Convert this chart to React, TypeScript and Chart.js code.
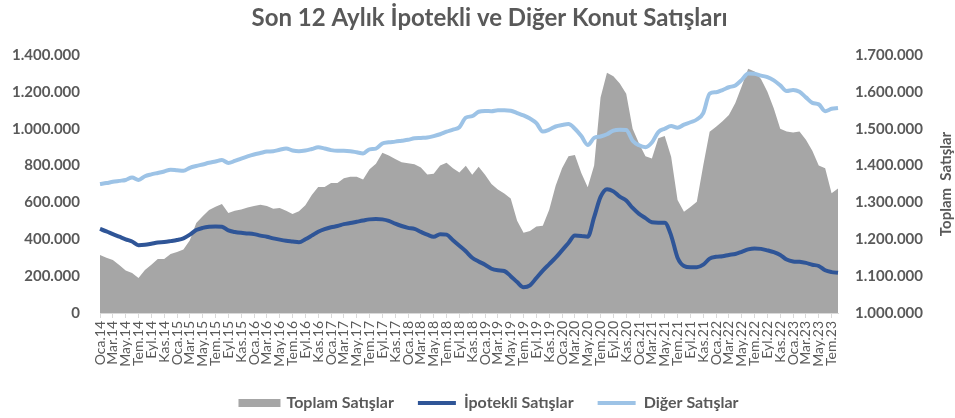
import React, { useEffect, useRef } from 'react';
import { Chart, registerables } from 'chart.js';

Chart.register(...registerables);

const TITLE = 'Son 12 Aylık İpotekli ve Diğer Konut Satışları';
const RIGHT_AXIS_TITLE = 'Toplam  Satışlar';
const SERIES_NAMES = ['Toplam Satışlar', 'İpotekli Satışlar', 'Diğer Satışlar'];

const MONTHS = ['Oca', 'Şub', 'Mar', 'Nis', 'May', 'Haz', 'Tem', 'Ağu', 'Eyl', 'Eki', 'Kas', 'Ara'];
const YEARS = ['14', '15', '16', '17', '18', '19', '20', '21', '22', '23'];
const ALL_MONTHS: string[] = [];
YEARS.forEach((y) => MONTHS.forEach((m) => ALL_MONTHS.push(`${m}.${y}`)));
const CATEGORIES = ALL_MONTHS.slice(0, 116); // Oca.14 .. Ağu.23

// Toplam Satışlar (right axis)
const TOPLAM = [
  1157500, 1150000, 1144000, 1130000, 1115000, 1108500, 1095000, 1116500, 1131000, 1146500,
  1146500, 1160000, 1165500, 1172500, 1197500, 1244000, 1262500, 1279500, 1288500, 1295500,
  1271000, 1277500, 1281000, 1286500, 1290000, 1294000, 1290000, 1283000, 1285000, 1277500,
  1268500, 1276000, 1292500, 1320000, 1342000, 1342000, 1352500, 1352500, 1365500, 1370000,
  1370000, 1362500, 1390000, 1405000, 1435000, 1427500, 1417500, 1409000, 1406000, 1403500,
  1395000, 1376000, 1377500, 1400000, 1407500, 1392500, 1381000, 1399500, 1375000, 1397000,
  1375000, 1350000, 1335000, 1324500, 1310500, 1250000, 1217500, 1222500, 1235000, 1237000,
  1280000, 1345000, 1392500, 1425000, 1428500, 1380000, 1341000, 1400000, 1585000, 1652000,
  1642500, 1622500, 1595000, 1500000, 1460000, 1425000, 1419500, 1474000, 1480000, 1424000,
  1306500, 1275000, 1287500, 1302000, 1400000, 1492000, 1505000, 1520000, 1537000, 1570000,
  1615000, 1662500, 1655000, 1635000, 1600000, 1555000, 1500000, 1492500, 1490000, 1492500,
  1470000, 1440000, 1400000, 1392500, 1325000, 1337500,
];

// İpotekli Satışlar (left axis)
const IPOTEKLI = [
  456000, 443000, 428000, 414000, 400000, 388000, 368000, 370000, 376000, 383000,
  385000, 390000, 396000, 405000, 425000, 450000, 462000, 468000, 470000, 468000,
  448000, 440000, 435000, 432000, 428000, 420000, 414000, 405000, 398000, 392000,
  388000, 384000, 400000, 420000, 441000, 455000, 465000, 472000, 482000, 488000,
  495000, 502000, 508000, 510000, 508000, 500000, 485000, 472000, 462000, 456000,
  440000, 425000, 414000, 428000, 425000, 395000, 365000, 335000, 300000, 280000,
  262000, 240000, 232000, 228000, 200000, 168000, 140000, 150000, 190000, 230000,
  265000, 300000, 340000, 380000, 420000, 418000, 414000, 520000, 630000, 672000,
  660000, 631000, 610000, 570000, 538000, 515000, 492000, 490000, 490000, 420000,
  300000, 255000, 248000, 248000, 262000, 295000, 305000, 308000, 315000, 320000,
  332000, 345000, 350000, 348000, 340000, 330000, 315000, 290000, 280000, 278000,
  272000, 262000, 255000, 232000, 222000, 218000,
];

// Diğer Satışlar (left axis)
const DIGER = [
  700000, 705000, 712000, 717000, 722000, 735000, 722000, 742000, 752000, 760000,
  768000, 778000, 775000, 772000, 788000, 798000, 806000, 815000, 822000, 830000,
  814000, 825000, 838000, 850000, 860000, 868000, 876000, 878000, 886000, 893000,
  882000, 878000, 882000, 890000, 899000, 893000, 884000, 880000, 880000, 878000,
  872000, 866000, 888000, 892000, 920000, 926000, 930000, 935000, 940000, 948000,
  950000, 952000, 960000, 970000, 984000, 995000, 1008000, 1060000, 1068000, 1092000,
  1096000, 1095000, 1100000, 1100000, 1098000, 1085000, 1072000, 1055000, 1030000, 985000,
  995000, 1012000, 1020000, 1025000, 1000000, 960000, 912000, 950000, 958000, 970000,
  990000, 995000, 993000, 935000, 910000, 900000, 925000, 982000, 1000000, 1015000,
  1005000, 1022000, 1035000, 1050000, 1085000, 1190000, 1198000, 1210000, 1225000, 1235000,
  1265000, 1300000, 1298000, 1288000, 1280000, 1262000, 1235000, 1205000, 1210000, 1200000,
  1170000, 1140000, 1132000, 1095000, 1108000, 1112000,
];

const LEFT_MIN = 0;
const LEFT_MAX = 1400000;
const LEFT_STEP = 200000;
const RIGHT_MIN = 1000000;
const RIGHT_MAX = 1700000;
const RIGHT_STEP = 100000;

const COLORS = ['#A6A6A6', '#2F5597', '#9DC3E6'];
const TEXT = '#595959';
const FONT = 'Lato, "Open Sans", sans-serif';

const fmt = (v: number) => String(Math.round(v)).replace(/\B(?=(\d{3})+(?!\d))/g, '.');

const rightTitlePlugin = {
  id: 'rightTitle',
  afterDraw(chart: any) {
    const { ctx, chartArea } = chart;
    ctx.save();
    ctx.translate(chartArea.right + 108, (chartArea.top + chartArea.bottom) / 2);
    ctx.rotate(-Math.PI / 2);
    ctx.font = `bold 15px ${FONT}`;
    ctx.fillStyle = TEXT;
    ctx.textAlign = 'center';
    ctx.textBaseline = 'middle';
    ctx.fillText(RIGHT_AXIS_TITLE, 0, 0);
    ctx.restore();
  },
};

export default function App() {
  const ref = useRef<HTMLCanvasElement | null>(null);

  useEffect(() => {
    document.body.style.margin = '0';
    if (!ref.current) return;
    const chart = new Chart(ref.current, {
      type: 'line',
      data: {
        labels: CATEGORIES,
        datasets: [
          {
            label: SERIES_NAMES[0],
            data: TOPLAM,
            yAxisID: 'y2',
            fill: 'start',
            backgroundColor: COLORS[0],
            borderColor: 'rgba(0,0,0,0)',
            borderWidth: 0,
            pointRadius: 0,
            tension: 0,
            order: 2,
          },
          {
            label: SERIES_NAMES[1],
            data: IPOTEKLI,
            yAxisID: 'y',
            fill: false,
            borderColor: COLORS[1],
            backgroundColor: COLORS[1],
            borderWidth: 4,
            pointRadius: 0,
            cubicInterpolationMode: 'monotone',
            order: 1,
          },
          {
            label: SERIES_NAMES[2],
            data: DIGER,
            yAxisID: 'y',
            fill: false,
            borderColor: COLORS[2],
            backgroundColor: COLORS[2],
            borderWidth: 4,
            pointRadius: 0,
            cubicInterpolationMode: 'monotone',
            order: 0,
          },
        ],
      },
      options: {
        responsive: false,
        animation: false,
        layout: { padding: { left: 0, right: -24, top: 0, bottom: -3 } },
        plugins: {
          tooltip: { enabled: false },
          title: {
            display: true,
            text: TITLE,
            color: TEXT,
            font: { family: FONT, size: 24, weight: 'bold', lineHeight: 1.2 },
            padding: { top: 4, bottom: 22.2 },
          },
          legend: {
            position: 'bottom',
            labels: {
              boxWidth: 38,
              boxHeight: 4,
              padding: 24,
              color: TEXT,
              font: { family: FONT, size: 16, weight: 'bold' },
              generateLabels: (c: any) =>
                c.data.datasets.map((ds: any, i: number) => ({
                  text: ds.label,
                  fillStyle: COLORS[i],
                  strokeStyle: COLORS[i],
                  lineWidth: i === 0 ? 4 : 0,
                  hidden: false,
                  datasetIndex: i,
                  fontColor: TEXT,
                })),
            },
          },
        },
        scales: {
          x: {
            offset: false,
            afterFit: (s: any) => {
              s.height = 58;
            },
            grid: {
              display: true,
              drawOnChartArea: false,
              drawTicks: true,
              tickLength: 5,
              color: (ctx: any) => (ctx.index % 2 === 0 ? '#D9D9D9' : 'rgba(0,0,0,0)'),
            },
            border: { display: true, color: '#D9D9D9', width: 1 },
            ticks: {
              autoSkip: false,
              minRotation: 90,
              maxRotation: 90,
              padding: 3,
              color: TEXT,
              font: { family: FONT, size: 14 },
              callback: (_v: any, i: number) => (i % 2 === 0 ? CATEGORIES[i] : ''),
            },
          },
          y: {
            position: 'left',
            min: LEFT_MIN,
            max: LEFT_MAX,
            afterFit: (s: any) => {
              s.width = 100;
            },
            grid: { display: false, drawTicks: false },
            border: { display: false },
            ticks: {
              stepSize: LEFT_STEP,
              padding: 20,
              color: TEXT,
              font: { family: FONT, size: 15, weight: 'bold' },
              callback: (v: any) => fmt(Number(v)),
            },
          },
          y2: {
            position: 'right',
            min: RIGHT_MIN,
            max: RIGHT_MAX,
            afterFit: (s: any) => {
              s.width = 141;
            },
            grid: { display: false, drawTicks: false },
            border: { display: false },
            ticks: {
              stepSize: RIGHT_STEP,
              padding: 17,
              color: TEXT,
              font: { family: FONT, size: 15, weight: 'bold' },
              callback: (v: any) => fmt(Number(v)),
            },
          },
        },
      },
      plugins: [rightTitlePlugin],
    } as any);
    return () => chart.destroy();
  }, []);

  return (
    <div style={{ width: 955, height: 418 }}>
      <canvas ref={ref} width={955} height={418} style={{ width: 955, height: 418, display: 'block' }} />
    </div>
  );
}
